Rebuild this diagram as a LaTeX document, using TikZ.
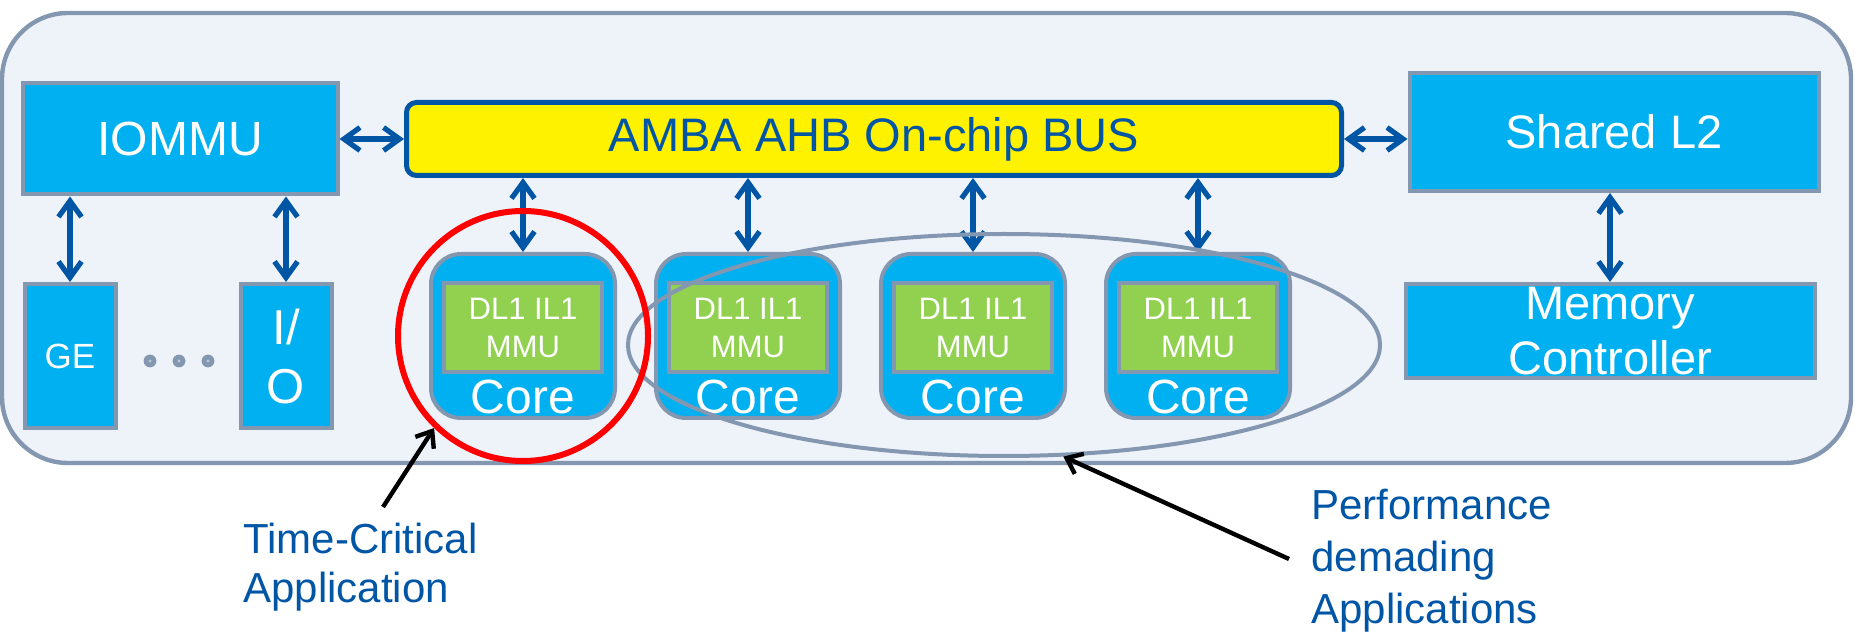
\documentclass[tikz,border=0pt]{standalone}
\usepackage{fontspec}
\setmainfont{Liberation Sans}
\usetikzlibrary{positioning, shapes.geometric, arrows.meta}
\definecolor{chipfill}{HTML}{EEF3FA}
\definecolor{chipline}{HTML}{8497B0}
\definecolor{unitblue}{HTML}{00B0F0}
\definecolor{cachegreen}{HTML}{92D050}
\definecolor{busblue}{HTML}{0055A5}

\begin{document}
\begin{tikzpicture}[x=0.5pt, y=-0.5pt,
		unit/.style={draw=chipline, fill=unitblue, line width=2pt, text=white, inner sep=0pt, align=center, font=\fontsize{24}{28}\selectfont},
		corebox/.style={unit, rounded corners=15pt, minimum width=92pt, minimum height=82pt},
		cachebox/.style={unit, fill=cachegreen, minimum width=79pt, minimum height=44.5pt, font=\fontsize{15.5}{19}\selectfont},
		link/.style={busblue, line width=2.6pt, {Straight Barb[length=8pt,width=11.5pt]}-{Straight Barb[length=8pt,width=11.5pt]}},
		pointer/.style={black, line width=2.2pt, -{Straight Barb[length=7pt,width=11pt]}},
		note/.style={text=busblue, align=left, inner sep=0pt, anchor=west}]
	\useasboundingbox (0,0) rectangle (1855,635);
	\draw[draw=chipline, fill=chipfill, line width=2.2pt, rounded corners=33pt] (2,13) rectangle (1851,463);

	\node[unit, minimum width=157.5pt, minimum height=55.5pt] (iommu) at (180,139) {IOMMU};
	\node[draw=busblue, fill=yellow, line width=2.5pt, rounded corners=5pt, minimum width=467.5pt, minimum height=36.5pt,
		text=busblue, font=\fontsize{23.5}{28}\selectfont] (bus) at (874,139) {AMBA AHB On-chip BUS};
	\node[unit, minimum width=204.5pt, minimum height=59pt, font=\fontsize{23.5}{28}\selectfont] (l2) at (1614,132) {Shared L2};
	\node[unit, minimum width=204.5pt, minimum height=47pt, font=\fontsize{23.5}{27.5}\selectfont] (mem) at (1610,331) {Memory\\Controller};
	\node[unit, minimum width=45.5pt, minimum height=72pt, font=\fontsize{17.5}{21}\selectfont] (ge) at (70,356) {GE};
	\node[unit, minimum width=45.5pt, minimum height=72pt, font=\fontsize{24.5}{29.5}\selectfont] (io) at (286,356) {I/\\O};
	\foreach \x in {150,179,208} {
		\fill[chipline] (\x,361) circle (3.2pt);
		\fill[chipline!55] (\x,361) circle (0.8pt);
	}

	\foreach \i/\x in {1/523,2/748,3/973,4/1198} {
		\node[corebox] (core\i) at (\x,336) {};
		\node[cachebox] (cache\i) at (\x,328) {DL1 IL1\\MMU};
		\node[text=white, inner sep=0pt, font=\fontsize{24}{28}\selectfont] (label\i) at (\x,397) {Core};
		\draw[link] (bus.south -| core\i) -- (core\i.north);
	}

	\draw[link] (iommu.east) -- (bus.west);
	\draw[link] (bus.east) -- (bus.east -| l2.west);
	\draw[link] (iommu.south -| ge) -- (ge.north);
	\draw[link] (iommu.south -| io) -- (io.north);
	\draw[link] (l2.south -| mem) -- (mem.north);

	\node[ellipse, draw=chipline, line width=2pt, minimum width=376pt, minimum height=111pt, inner sep=0pt] (perfring) at (1004,345) {};
	\node[circle, draw=red, line width=3pt, minimum size=125pt, inner sep=0pt] (tcring) at (523,336) {};

	\node[note, font=\fontsize{21}{24.5}\selectfont] (tclabel) at (243,567) {Time-Critical\\Application};
	\node[note, font=\fontsize{21}{26}\selectfont] (pflabel) at (1311,561) {Performance\\demading\\Applications};
	\coordinate (tcfoot) at (383,507);
	\coordinate (pffoot) at (1289,559);
	\draw[pointer] (tcfoot) -- (tcring.226);
	\draw[pointer] (pffoot) -- (perfring.-62);
\end{tikzpicture}
\end{document}
